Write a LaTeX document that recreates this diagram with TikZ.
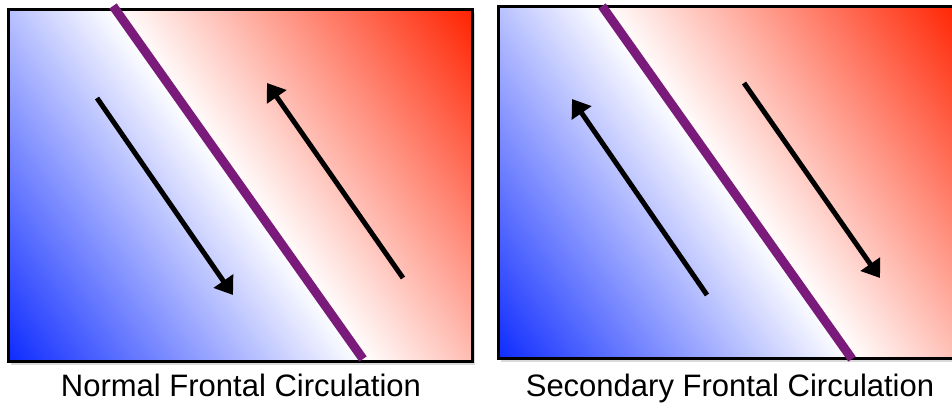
\documentclass[tikz,border=0pt]{standalone}
\usepackage{fontspec}
\setmainfont{Liberation Sans}
\usetikzlibrary{arrows.meta,calc}
\definecolor{coldblue}{RGB}{10,40,255}
\definecolor{warmred}{RGB}{255,34,0}
\definecolor{frontpurple}{RGB}{122,26,122}

\begin{document}
\begin{tikzpicture}[
  x=1pt,y=1pt,
  panel/.style={draw=black,line width=3pt},
  panelshadow/.style={fill=black,opacity=0.15},
  front/.style={draw=frontpurple,line width=9pt,line cap=butt},
  flow/.style={draw=black,line width=5pt,-{Triangle[length=17pt,width=23pt]}},
  caption/.style={font=\fontsize{31}{36}\selectfont,anchor=base,inner sep=0pt}
]
\useasboundingbox (0,0) rectangle (952,409);

% --- panel corners ---
\coordinate (nsw) at (8,47);
\coordinate (nne) at (472,399);
\coordinate (ssw) at (498,50);
\coordinate (sne) at (962,402);

% --- shadows ---
\fill[panelshadow] ($(nsw)+(3,-3)$) rectangle ($(nne)+(3,-3)$);
\fill[panelshadow] ($(ssw)+(3,-3)$) rectangle ($(sne)+(3,-3)$);

% --- cold to warm shading ---
\begin{scope}
  \clip (nsw) rectangle (nne);
  \begin{scope}[transform canvas={shift={(239,223)},rotate=35.6}]
    \shade[left color=coldblue,right color=warmred,middle color=white] (-293,-300) rectangle (293,300);
  \end{scope}
\end{scope}
\begin{scope}
  \clip (ssw) rectangle (sne);
  \begin{scope}[transform canvas={shift={(727,226)},rotate=35.6}]
    \shade[left color=coldblue,right color=warmred,middle color=white] (-293,-300) rectangle (293,300);
  \end{scope}
\end{scope}
\draw[panel] (nsw) rectangle (nne);
\draw[panel] (ssw) rectangle (sne);

% --- fronts ---
\coordinate (nfronttop) at (113,403);
\coordinate (nfrontbot) at (363,50);
\coordinate (sfronttop) at (602,403);
\coordinate (sfrontbot) at (852,50);
\draw[front] (nfronttop) -- (nfrontbot);
\draw[front] (sfronttop) -- (sfrontbot);

% --- circulation arrows ---
\coordinate (ncoldstart) at (97,311);
\coordinate (ncoldend) at (233,114);
\coordinate (nwarmstart) at (403,131);
\coordinate (nwarmend) at (267,326);
\coordinate (scoldstart) at (707,114);
\coordinate (scoldend) at (572,310);
\coordinate (swarmstart) at (744,326);
\coordinate (swarmend) at (880,131);
\draw[flow] (ncoldstart) -- (ncoldend);
\draw[flow] (nwarmstart) -- (nwarmend);
\draw[flow] (scoldstart) -- (scoldend);
\draw[flow] (swarmstart) -- (swarmend);

% --- captions ---
\node[caption] (normlabel) at (241,12) {Normal Frontal Circulation};
\node[caption] (seclabel) at (730,12) {Secondary Frontal Circulation};
\end{tikzpicture}
\end{document}
